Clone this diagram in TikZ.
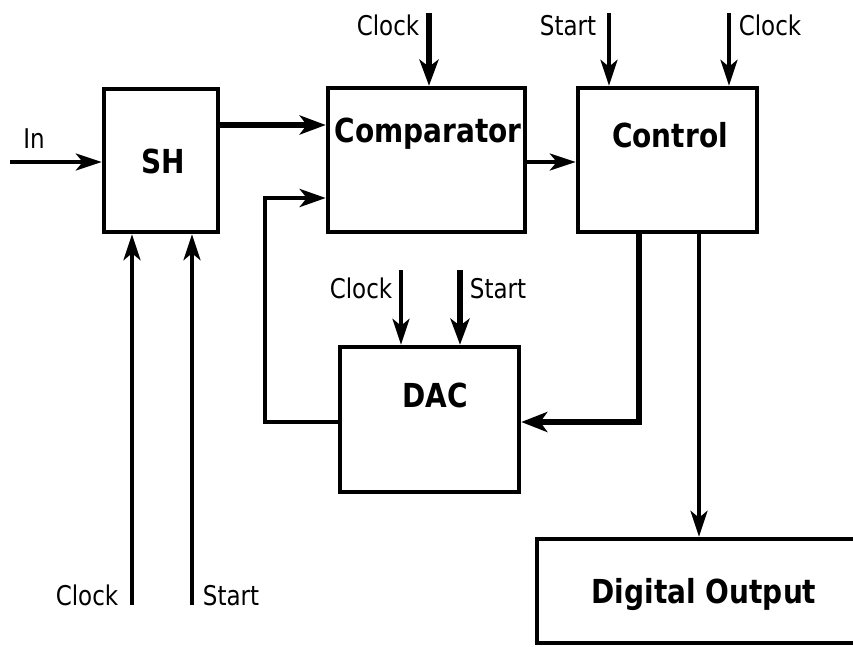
\documentclass[tikz,border=0pt]{standalone}
\usepackage{fontspec}
\usepackage{graphicx}
\setmainfont{DejaVu Sans}
\usetikzlibrary{arrows.meta,calc}
\newcommand{\vstr}[1]{\scalebox{1}[1.18]{#1}}
\tikzset{
  blk/.style={draw, line width=4.5pt, inner sep=0pt, minimum width=#1},
  lbl/.style={anchor=base, inner sep=0pt, font=\fontsize{23}{27}\selectfont},
  blbl/.style={anchor=base, inner sep=0pt, font=\fontsize{28}{32}\selectfont\bfseries},
  thinar/.style={line width=3.5pt, -{Stealth[length=26pt,width=17pt,inset=7pt]}},
  thickar/.style={line width=5.5pt, -{Stealth[length=26pt,width=19pt,inset=7pt]}},
  fatar/.style={line width=6.5pt, -{Stealth[length=26pt,width=20pt,inset=7pt]}},
}
\begin{document}
\begin{tikzpicture}[x=1pt,y=-1pt]
\useasboundingbox (0,0) rectangle (853,646);
\clip (0,0) rectangle (853,646);
% boxes
\node[blk=114pt, minimum height=143pt] (sh)   at (161,160.5) {};
\node[blk=197pt, minimum height=144pt] (comp) at (426.5,160) {};
\node[blk=179pt, minimum height=144pt] (ctrl) at (667.5,160) {};
\node[blk=179pt, minimum height=145pt] (dac)  at (429.5,419.5) {};
\node[blk=333pt, minimum height=104pt] (dout) at (703.5,591) {};
% box labels
\node[blbl] (tsh)   at (163,173) {\vstr{SH}};
\node[blbl] (tcomp) at (428,142) {\vstr{Comparator}};
\node[blbl] (tctrl) at (670,147) {\vstr{Control}};
\node[blbl] (tdac)  at (435,407) {\vstr{DAC}};
\node[blbl] (tdout) at (704,603) {\vstr{Digital Output}};
% signal labels
\node[lbl] (lin)  at (34,148)  {\vstr{In}};
\node[lbl] (lck1) at (388,35)  {\vstr{Clock}};
\node[lbl] (lst2) at (568,35)  {\vstr{Start}};
\node[lbl] (lck2) at (770,35)  {\vstr{Clock}};
\node[lbl] (lck3) at (361,298) {\vstr{Clock}};
\node[lbl] (lst3) at (498,298) {\vstr{Start}};
\node[lbl] (lck4) at (87,605)  {\vstr{Clock}};
\node[lbl] (lst4) at (231,605) {\vstr{Start}};
% coordinates
\coordinate (pin) at (10,162);
\coordinate (yA) at (0,125);
\coordinate (yB) at (0,162);
\coordinate (ck1) at (429,13);
\coordinate (st2) at (609,13);
\coordinate (ck2) at (729,13);
\coordinate (ck3) at (401,270);
\coordinate (st3) at (460,270);
\coordinate (ck4) at (132,605);
\coordinate (st4) at (192,605);
\coordinate (fbA) at (265,422);
\coordinate (fbB) at (265,198);
\coordinate (cdA) at (639,422);
\coordinate (xD) at (699,0);
% connectors
\draw[thinar] (pin) -- (pin -| sh.west);
\draw[thickar] (yA -| sh.east) -- (yA -| comp.west);
\draw[thickar] (ck1) -- (ck1 |- comp.north);
\draw[thinar] (yB -| comp.east) -- (yB -| ctrl.west);
\draw[thinar] (st2) -- (st2 |- ctrl.north);
\draw[thinar] (ck2) -- (ck2 |- ctrl.north);
\draw[thinar] (ck3) -- (ck3 |- dac.north);
\draw[thickar] (st3) -- (st3 |- dac.north);
\draw[thinar] (ck4) -- (ck4 |- sh.south);
\draw[thinar] (st4) -- (st4 |- sh.south);
\draw[line width=4.5pt, -{Stealth[length=26pt,width=18pt,inset=7pt]}, line join=miter]
  (fbA -| dac.west) -- (fbA) -- (fbB) -- (fbB -| comp.west);
\draw[fatar, line join=miter] (cdA |- ctrl.south) -- (cdA) -- (cdA -| dac.east);
\draw[thinar] (xD |- ctrl.south) -- (xD |- dout.north);
\end{tikzpicture}
\end{document}
